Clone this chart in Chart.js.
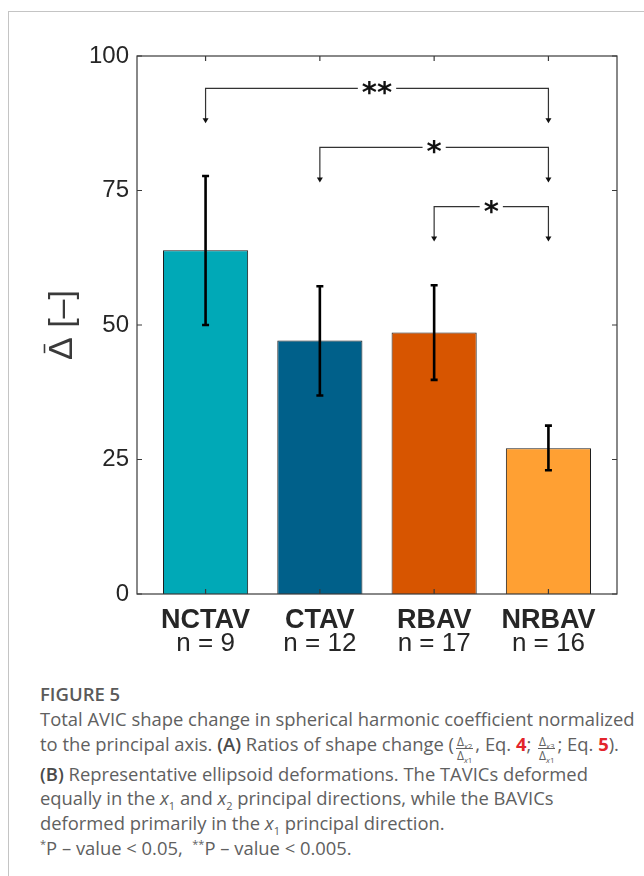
<!DOCTYPE html>
<html>
<head>
<meta charset="utf-8">
<script src="https://cdn.jsdelivr.net/npm/chart.js@4"></script>
<style>
  html, body { margin: 0; padding: 0; background: #fff; }
  body { width: 644px; height: 876px; position: relative; overflow: hidden; }
  .card { position: absolute; left: 8px; top: 11px; width: 800px; height: 1000px;
          border-left: 1px solid #c4c4c4; border-top: 1px solid #c4c4c4; }
  #wrap { position: absolute; left: 0; top: 0; width: 644px; height: 676px; }
  .cap { position: absolute; left: 40px; top: 682px; font-family: "Open Sans", sans-serif;
         font-size: 18.4px; color: #606060; line-height: 24.8px; white-space: nowrap; font-weight: 400; }
  .cap .fig { font-weight: 600; color: #5a5a5a; font-size: 18.5px; }
  .cap b { color: #4a4a4a; font-weight: 600; }
  .cap .red { color: #e3242b; font-weight: 700; }
  .frac { display: inline-block; vertical-align: -9px; text-align: center; font-size: 12px; line-height: 13px; margin: 0 2px; }
  .frac span { display: block; }
  .frac .num { border-bottom: 1px solid #606060; padding: 0 1px; }
  .frac sub { font-size: 8px; }
  sub, sup { font-size: 11px; line-height: 0; }
</style>
</head>
<body>
<div class="card"></div>
<div id="wrap"><canvas id="chart" width="644" height="676"></canvas></div>
<div class="cap">
  <div class="fig">FIGURE 5</div>
  Total AVIC shape change in spherical harmonic coefficient normalized<br>
  to the principal axis. <b>(A)</b> Ratios of shape change (<span class="frac"><span class="num">Δ<sub><i>x</i>2</sub></span><span>Δ<sub><i>x</i>1</sub></span></span>, Eq. <span class="red">4</span>; <span class="frac"><span class="num">Δ<sub><i>x</i>3</sub></span><span>Δ<sub><i>x</i>1</sub></span></span>; Eq. <span class="red">5</span>).<br>
  <b>(B)</b> Representative ellipsoid deformations. The TAVICs deformed<br>
  equally in the <i>x</i><sub>1</sub> and <i>x</i><sub>2</sub> principal directions, while the BAVICs<br>
  deformed primarily in the <i>x</i><sub>1</sub> principal direction.<br>
  <sup>*</sup>P – value &lt; 0.05, &nbsp;<sup>**</sup>P – value &lt; 0.005.
</div>
<script>
// group data
var groups = ["NCTAV", "CTAV", "RBAV", "NRBAV"];
var counts = ["n = 9", "n = 12", "n = 17", "n = 16"];
var means = [63.9, 47.1, 48.6, 27.1];
var errLow = [50.0, 36.9, 39.8, 23.0];
var errHigh = [77.7, 57.2, 57.4, 31.3];
var barColors = ["#00a9b7", "#00608a", "#d75500", "#ffa033"];
var yTicks = [0, 25, 50, 75, 100];
var yTitle = ["Δ", "[–]"];

// significance brackets (from group, to group, level, arrow tip, label)
var sigFrom = [1, 2, 3];
var sigTo = [4, 4, 4];
var sigLevel = [94, 83, 72];
var sigTip = [87.5, 76.5, 65.5];
var sigLabel = ["**", "*", "*"];

var CANVAS_H = 676;
var AXIS_BOTTOM = 594;
var ink = "#262626";

var extras = {
  id: 'extras',
  afterDatasetsDraw: function(chart) {
    var c = chart.ctx, xs = chart.scales.x, ys = chart.scales.y, a = chart.chartArea;
    c.save();
    // error bars
    c.strokeStyle = "#000";
    c.lineWidth = 2.6;
    for (var i = 0; i < groups.length; i++) {
      var px = xs.getPixelForValue(i + 1);
      var lo = ys.getPixelForValue(errLow[i]), hi = ys.getPixelForValue(errHigh[i]);
      c.beginPath();
      c.moveTo(px, lo); c.lineTo(px, hi);
      c.moveTo(px - 3.5, lo); c.lineTo(px + 3.5, lo);
      c.moveTo(px - 3.5, hi); c.lineTo(px + 3.5, hi);
      c.stroke();
    }
    // box and inward ticks
    c.strokeStyle = "#3a3a3a";
    c.lineWidth = 1.2;
    c.strokeRect(a.left, a.top, a.right - a.left, a.bottom - a.top);
    c.beginPath();
    yTicks.forEach(function(v) {
      var py = ys.getPixelForValue(v);
      c.moveTo(a.left, py); c.lineTo(a.left + 5, py);
      c.moveTo(a.right, py); c.lineTo(a.right - 5, py);
    });
    for (var k = 0; k < groups.length; k++) {
      var tx = xs.getPixelForValue(k + 1);
      c.moveTo(tx, a.top); c.lineTo(tx, a.top + 5);
      c.moveTo(tx, a.bottom); c.lineTo(tx, a.bottom - 5);
    }
    c.stroke();
    // significance brackets
    c.strokeStyle = "#333";
    c.fillStyle = "#111";
    c.lineWidth = 1.2;
    c.font = "bold 29px 'DejaVu Sans'";
    for (var j = 0; j < sigFrom.length; j++) {
      var x1 = xs.getPixelForValue(sigFrom[j]), x2 = xs.getPixelForValue(sigTo[j]);
      var yl = ys.getPixelForValue(sigLevel[j]), yt = ys.getPixelForValue(sigTip[j]);
      var mid = (x1 + x2) / 2;
      var m = c.measureText(sigLabel[j]);
      var half = m.width / 2 + 4;
      c.beginPath();
      c.moveTo(mid - half, yl); c.lineTo(x1, yl); c.lineTo(x1, yt - 4);
      c.moveTo(mid + half, yl); c.lineTo(x2, yl); c.lineTo(x2, yt - 4);
      c.stroke();
      [x1, x2].forEach(function(ax) {
        c.beginPath();
        c.moveTo(ax - 3, yt - 5); c.lineTo(ax + 3, yt - 5); c.lineTo(ax, yt); c.closePath();
        c.fill();
      });
      var asc = m.actualBoundingBoxAscent, desc = m.actualBoundingBoxDescent;
      c.textAlign = "center";
      c.textBaseline = "alphabetic";
      c.fillText(sigLabel[j], mid, yl + (asc - desc) / 2);
    }
    // category labels
    c.fillStyle = ink;
    for (var n = 0; n < groups.length; n++) {
      var lx = xs.getPixelForValue(n + 1);
      c.font = "bold 27px 'Liberation Sans'";
      c.fillText(groups[n], lx, 628);
      c.font = "26px 'Liberation Sans'";
      c.fillText(counts[n], lx, 651);
    }
    // y axis title: delta with a bar, then [–], rotated
    var cy = (a.top + a.bottom) / 2;
    c.translate(72, cy);
    c.rotate(-Math.PI / 2);
    c.fillStyle = "#3a3a3a";
    c.strokeStyle = "#3a3a3a";
    c.font = "34px 'Liberation Sans'";
    c.textAlign = "left";
    var w1 = c.measureText(yTitle[0] + " ").width;
    var total = w1 + c.measureText(yTitle[1]).width;
    var sx = -total / 2;
    c.fillText(yTitle[0], sx, 0);
    var dw = c.measureText(yTitle[0]).width;
    c.lineWidth = 1.6;
    c.beginPath();
    c.moveTo(sx + dw * 0.3, -27.5); c.lineTo(sx + dw * 0.7, -27.5);
    c.stroke();
    c.fillText(yTitle[1], sx + w1, 0);
    c.restore();
  }
};

var ctx = document.getElementById("chart").getContext('2d');
var myChart = new Chart(ctx, {
  type: 'bar',
  data: {
    datasets: [{
      data: groups.map(function(g, i) { return { x: i + 1, y: means[i] }; }),
      backgroundColor: barColors,
      borderColor: '#1e1e1e',
      borderWidth: 1,
      categoryPercentage: 1,
      barPercentage: 0.745
    }]
  },
  options: {
    responsive: false,
    animation: false,
    events: [],
    layout: { padding: { top: 56, right: 27, left: 0, bottom: 0 } },
    plugins: { legend: { display: false }, tooltip: { enabled: false } },
    scales: {
      x: {
        type: 'linear', min: 0.4, max: 4.6, offset: false,
        grid: { display: false, drawTicks: false, offset: false },
        border: { display: false },
        ticks: { display: false, stepSize: 1, includeBounds: false },
        afterFit: function(s) { s.height = CANVAS_H - AXIS_BOTTOM; }
      },
      y: {
        min: 0, max: 100,
        grid: { display: false, drawTicks: false },
        border: { display: false },
        ticks: { stepSize: 25, padding: 8, color: ink, font: { family: 'Liberation Sans', size: 24 } },
        afterFit: function(s) { s.width = 137; }
      }
    }
  },
  plugins: [extras]
});
</script>
</body>
</html>
